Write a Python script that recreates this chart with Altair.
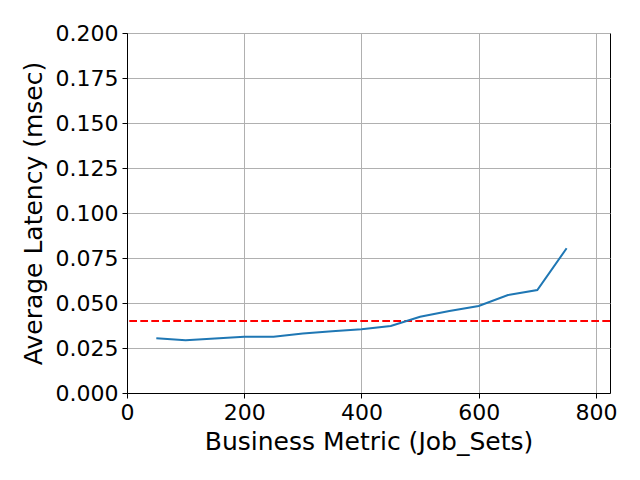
import altair as alt
import pandas as pd

job_sets = [50, 100, 150, 200, 250, 300, 350, 400, 450, 500, 550, 600, 650, 700, 750]
latency = [0.0304, 0.0293, 0.0303, 0.0313, 0.0313, 0.0331, 0.0343, 0.0354, 0.0372,
           0.0424, 0.0455, 0.0483, 0.0544, 0.0572, 0.0804]
threshold = 0.04
x_ticks = [0, 200, 400, 600, 800]
y_ticks = [0, 0.025, 0.05, 0.075, 0.1, 0.125, 0.15, 0.175, 0.2]

df = pd.DataFrame({"x": job_sets, "y": latency})

FONT = "DejaVu Sans"

x_enc = alt.X("x:Q", scale=alt.Scale(domain=[0, 824], nice=False, zero=False),
              axis=alt.Axis(values=x_ticks, title="Business Metric (Job_Sets)", format="d",
                            labelFlush=False))
y_enc = alt.Y("y:Q", scale=alt.Scale(domain=[0, 0.2], nice=False),
              axis=alt.Axis(values=y_ticks, title="Average Latency (msec)", format=".3f",
                            labelFlush=False))

line = alt.Chart(df).mark_line(color="#1f77b4", strokeWidth=2).encode(x=x_enc, y=y_enc)

rule = alt.Chart(pd.DataFrame({"t": [threshold]})).mark_rule(
    color="#ff0000", strokeWidth=2, strokeDash=[7.7, 3.3]
).encode(y=alt.Y("t:Q"))

chart = alt.layer(rule, line).properties(
    width=483, height=360,
    autosize=alt.AutoSizeParams(type="none"),
    padding={"left": 119, "top": 25, "right": 22, "bottom": 79},
).configure_view(stroke="black", strokeWidth=1).configure_axis(
    grid=True, gridColor="#b0b0b0", gridWidth=1, gridOpacity=1,
    domainColor="black", domainWidth=1, tickColor="black", tickSize=5, tickWidth=1,
    labelFont=FONT, labelFontSize=22, labelColor="black", labelPadding=4,
    titleFont=FONT, titleFontSize=25, titleColor="black", titleFontWeight="normal",
).configure_axisY(titlePadding=9).configure_axisX(titlePadding=6)

chart.save("out.html", embed_options={"renderer": "svg", "actions": False})
